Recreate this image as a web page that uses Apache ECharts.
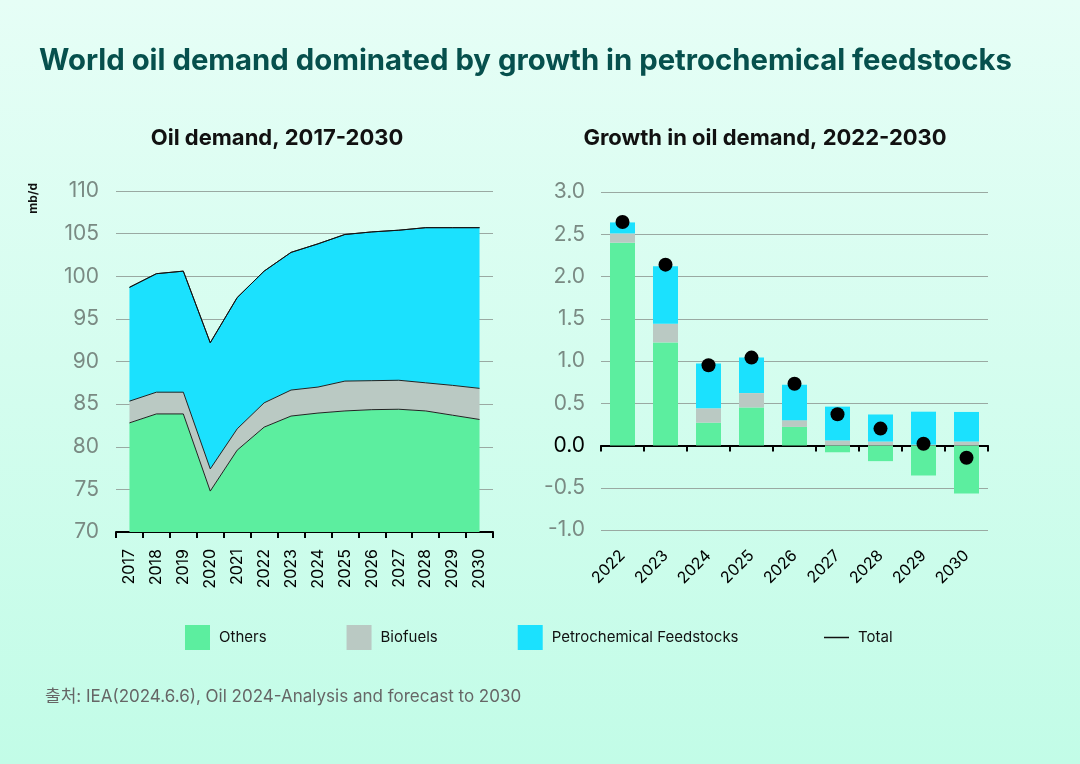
<!DOCTYPE html>
<html>
<head>
<meta charset="utf-8">
<script src="https://cdn.jsdelivr.net/npm/echarts@6/dist/echarts.min.js"></script>
<style>
html,body{margin:0;padding:0;}
#c{width:1080px;height:764px;}
</style>
</head>
<body>
<div id="c"></div>
<script>
// ---------- data ----------
const leftYears = ['2017','2018','2019','2020','2021','2022','2023','2024','2025','2026','2027','2028','2029','2030'];
const leftOthers = [82.8, 83.85, 83.85, 74.8, 79.6, 82.3, 83.6, 83.95, 84.2, 84.35, 84.4, 84.2, 83.7, 83.2];
const leftBiofuels = [2.55, 2.55, 2.55, 2.6, 2.5, 2.85, 3.05, 3.05, 3.5, 3.4, 3.4, 3.3, 3.5, 3.65];
const leftPetro = [13.35, 13.9, 14.2, 14.8, 15.4, 15.45, 16.15, 16.8, 17.2, 17.45, 17.6, 18.2, 18.5, 18.85];
const leftTotal = [98.7, 100.3, 100.6, 92.2, 97.5, 100.6, 102.8, 103.8, 104.9, 105.2, 105.4, 105.7, 105.7, 105.7];

const rightYears = ['2022','2023','2024','2025','2026','2027','2028','2029','2030'];
const rightOthers = [2.40, 1.22, 0.27, 0.45, 0.22, -0.08, -0.185, -0.355, -0.567];
const rightBiofuels = [0.11, 0.22, 0.17, 0.17, 0.08, 0.06, 0.047, 0.01, 0.047];
const rightPetro = [0.13, 0.68, 0.53, 0.42, 0.42, 0.40, 0.32, 0.39, 0.35];
const rightTotal = [2.645, 2.14, 0.95, 1.04, 0.73, 0.37, 0.20, 0.02, -0.145];

const seriesNames = ['Others', 'Biofuels', 'Petrochemical Feedstocks', 'Total'];

// ---------- style ----------
const FONT = 'Inter, "Noto Sans CJK KR", sans-serif';
const C_OTH = '#5cee9f';
const C_BIO = '#bac9c3';
const C_PET = '#1be1fe';
const GRID_C = '#9aa9a2';
const LBL_C = '#7a8a83';

const chart = echarts.init(document.getElementById('c'), null, {renderer: 'canvas'});

const option = {
  backgroundColor: {
    type: 'linear', x: 0, y: 0, x2: 0, y2: 1,
    colorStops: [{offset: 0, color: '#e6fef6'}, {offset: 1, color: '#c2fce7'}]
  },
  animation: false,
  textStyle: {fontFamily: FONT},
  title: [
    {text: 'World oil demand dominated by growth in petrochemical feedstocks', left: 34, top: 42,
     textStyle: {fontSize: 29.3, fontWeight: 'bold', color: '#06504d', fontFamily: FONT}},
    {text: 'Oil demand, 2017-2030', left: 272, top: 122, textAlign: 'center',
     textStyle: {fontSize: 22, fontWeight: 'bold', color: '#111', fontFamily: FONT}},
    {text: 'Growth in oil demand, 2022-2030', left: 760, top: 122, textAlign: 'center',
     textStyle: {fontSize: 22, fontWeight: 'bold', color: '#111', fontFamily: FONT}}
  ],
  graphic: [
    {type: 'text', left: 27, top: 183, rotation: Math.PI / 2,
     style: {text: 'mb/d', font: 'bold 12px ' + FONT, fill: '#111'}},
    {type: 'text', left: 45, top: 688,
     style: {text: '출처: IEA(2024.6.6), Oil 2024-Analysis and forecast to 2030', font: '17px ' + FONT, fill: '#666'}}
  ],
  legend: [
    {left: 185, top: 625, padding: 0,
     itemWidth: 25, itemHeight: 25, itemGap: 80,
     textStyle: {fontSize: 15, color: '#111', fontFamily: FONT, padding: [0, 0, 0, 4]},
     data: [
       {name: seriesNames[0], icon: 'rect'},
       {name: seriesNames[1], icon: 'rect'},
       {name: seriesNames[2], icon: 'rect'}
     ]},
    {left: 824, top: 630, padding: 0,
     itemWidth: 25, itemHeight: 1.5,
     textStyle: {fontSize: 15, color: '#111', fontFamily: FONT, padding: [0, 0, 0, 4]},
     itemStyle: {color: '#111'},
     data: [{name: seriesNames[3], icon: 'rect'}]}
  ],
  grid: [
    {left: 116, top: 191, width: 377, height: 341},
    {left: 601, top: 192, width: 387, height: 338}
  ],
  xAxis: [
    {type: 'category', gridIndex: 0, data: leftYears, boundaryGap: true,
     axisLine: {lineStyle: {color: '#000', width: 2}},
     axisTick: {show: true, length: 6, lineStyle: {color: '#000', width: 2}},
     axisLabel: {rotate: 90, margin: 17, fontSize: 16, color: '#000', fontFamily: FONT}},
    {type: 'category', gridIndex: 1, data: rightYears, boundaryGap: true,
     axisLine: {onZero: true, lineStyle: {color: '#000', width: 2}},
     axisTick: {show: true, length: 6, lineStyle: {color: '#000', width: 2}},
     axisLabel: {rotate: 45, margin: 23, fontSize: 16, color: '#000', fontFamily: FONT}}
  ],
  yAxis: [
    {type: 'value', gridIndex: 0, min: 70, max: 110, interval: 5,
     axisLine: {show: false}, axisTick: {show: false},
     splitLine: {lineStyle: {color: GRID_C, width: 1}},
     axisLabel: {margin: 17, fontSize: 21, fontFamily: FONT,
       color: v => (v === 70 ? '#000' : LBL_C)}},
    {type: 'value', gridIndex: 1, min: -1, max: 3, interval: 0.5,
     axisLine: {show: false}, axisTick: {show: false},
     splitLine: {lineStyle: {color: GRID_C, width: 1}},
     axisLabel: {margin: 16, fontSize: 21, fontFamily: FONT,
       formatter: v => v.toFixed(1),
       color: v => (Math.abs(v) < 1e-9 ? '#000' : LBL_C)}}
  ],
  series: [
    // right chart bars
    {name: seriesNames[0], type: 'bar', xAxisIndex: 1, yAxisIndex: 1, stack: 'g', barWidth: 25,
     itemStyle: {color: C_OTH}, data: rightOthers},
    {name: seriesNames[1], type: 'bar', xAxisIndex: 1, yAxisIndex: 1, stack: 'g', barWidth: 25,
     itemStyle: {color: C_BIO}, data: rightBiofuels},
    {name: seriesNames[2], type: 'bar', xAxisIndex: 1, yAxisIndex: 1, stack: 'g', barWidth: 25,
     itemStyle: {color: C_PET}, data: rightPetro},
    // left chart stacked areas
    {name: seriesNames[0], type: 'line', xAxisIndex: 0, yAxisIndex: 0, stack: 'a', symbol: 'none',
     lineStyle: {color: '#222', width: 1}, itemStyle: {color: C_OTH},
     areaStyle: {color: C_OTH, opacity: 1}, data: leftOthers},
    {name: seriesNames[1], type: 'line', xAxisIndex: 0, yAxisIndex: 0, stack: 'a', symbol: 'none',
     lineStyle: {color: '#222', width: 1}, itemStyle: {color: C_BIO},
     areaStyle: {color: C_BIO, opacity: 1}, data: leftBiofuels},
    {name: seriesNames[2], type: 'line', xAxisIndex: 0, yAxisIndex: 0, stack: 'a', symbol: 'none',
     lineStyle: {color: '#222', width: 1}, itemStyle: {color: C_PET},
     areaStyle: {color: C_PET, opacity: 1}, data: leftPetro},
    // left chart total line
    {name: seriesNames[3], type: 'line', xAxisIndex: 0, yAxisIndex: 0, symbol: 'none',
     lineStyle: {color: '#111', width: 1}, itemStyle: {color: '#111'}, z: 5, data: leftTotal},
    // right chart total dots
    {name: seriesNames[3], type: 'scatter', xAxisIndex: 1, yAxisIndex: 1, symbolSize: 14, z: 5,
     itemStyle: {color: '#000', opacity: 1}, data: rightTotal}
  ]
};
chart.setOption(option);
</script>
</body>
</html>
